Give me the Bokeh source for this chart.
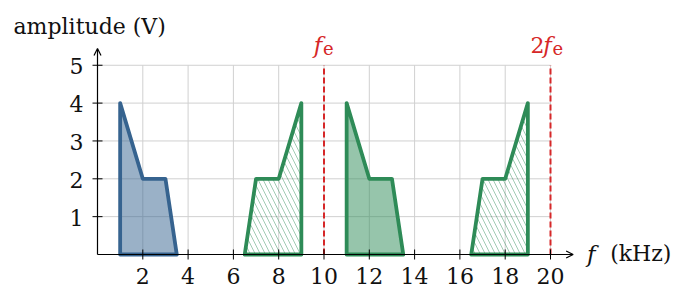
from bokeh.plotting import figure
from bokeh.models import Arrow, OpenHead, Range1d
from bokeh.core.properties import value
from bokeh.embed import file_html
from bokeh.resources import INLINE

# ---- data ----
base_f = [1, 1, 2, 3, 3.5]
base_a = [0, 4, 2, 2, 0]
lsb1_f = [9, 9, 8, 7, 6.5]
lsb1_a = [0, 4, 2, 2, 0]
usb1_f = [11, 11, 12, 13, 13.5]
usb1_a = [0, 4, 2, 2, 0]
lsb2_f = [19, 19, 18, 17, 16.5]
lsb2_a = [0, 4, 2, 2, 0]
fe_lines = [10, 20]
x_ticks = [2, 4, 6, 8, 10, 12, 14, 16, 18, 20]
x_tick_labels = ["2", "4", "6", "8", "10", "12", "14", "16", "18", "20"]
y_ticks = [1, 2, 3, 4, 5]
y_tick_labels = ["1", "2", "3", "4", "5"]
x_axis_end = 21.0
y_axis_end = 5.44

FONT = value("DejaVu Serif")
BLUE = "#36638f"
GREEN = "#2e8b57"
RED = "#d62728"

W, H = 673, 287
sx, sy = 22.65, 37.85
x0px, y0px = 97, 254

p = figure(width=W, height=H, output_backend="svg", toolbar_location=None,
           x_axis_type=None, y_axis_type=None, min_border=0,
           x_range=Range1d(-x0px / sx, (W - x0px) / sx),
           y_range=Range1d(-(H - y0px) / sy, y0px / sy))
p.outline_line_color = None
p.background_fill_color = "white"
p.border_fill_color = "white"

gx_top = y_ticks[-1]
gy_right = x_ticks[-1]
# grid
p.segment(x0=x_ticks, y0=[0] * len(x_ticks), x1=x_ticks, y1=[gx_top] * len(x_ticks),
          line_color="#d0d0d0", line_width=1)
p.segment(x0=[0] * len(y_ticks), y0=y_ticks, x1=[gy_right] * len(y_ticks), y1=y_ticks,
          line_color="#d0d0d0", line_width=1)

# sampling frequency lines
p.segment(x0=fe_lines, y0=[0] * len(fe_lines), x1=fe_lines, y1=[gx_top] * len(fe_lines),
          line_color=RED, line_width=2, line_dash="6 3")

# spectra
p.patch(base_f, base_a, fill_color=BLUE, fill_alpha=0.5, line_color=BLUE,
        line_width=3.8, line_join="round")
p.patch(usb1_f, usb1_a, fill_color=GREEN, fill_alpha=0.5, line_color=GREEN,
        line_width=3.8, line_join="round")
for xs, ys in [(lsb1_f, lsb1_a), (lsb2_f, lsb2_a)]:
    p.patch(xs, ys, fill_color=None, hatch_pattern="\\", hatch_color=GREEN,
            hatch_alpha=0.45, hatch_scale=10, hatch_weight=1,
            line_color=GREEN, line_width=3.8, line_join="round")

# axes
p.add_layout(Arrow(end=OpenHead(size=7, line_width=1.2, line_color="black"),
                   x_start=0, y_start=0, x_end=x_axis_end, y_end=0,
                   line_width=1.2, line_color="black"))
p.add_layout(Arrow(end=OpenHead(size=7, line_width=1.2, line_color="black"),
                   x_start=0, y_start=0, x_end=0, y_end=y_axis_end,
                   line_width=1.2, line_color="black"))
p.scatter(x=x_ticks, y=[0] * len(x_ticks), marker="dash", size=10, angle=1.5708,
          line_color="black", line_width=1)
p.scatter(x=[0] * len(y_ticks), y=y_ticks, marker="dash", size=10,
          line_color="black", line_width=1)

# tick labels
p.text(x=x_ticks, y=[0] * len(x_ticks), text=x_tick_labels, text_align="center",
       text_baseline="alphabetic", y_offset=21, text_font=FONT,
       text_font_size="22px", text_color="#111")
p.text(x=[0] * len(y_ticks), y=y_ticks, text=y_tick_labels, text_align="right",
       text_baseline="alphabetic", x_offset=-14, y_offset=1, text_font=FONT,
       text_font_size="22px", text_color="#111")

# axis labels
p.text(x=[0], y=[gx_top], text=["amplitude (V)"], text_align="left",
       text_baseline="alphabetic", x_offset=-84, y_offset=-39, text_font=FONT,
       text_font_size="22px", text_color="#111")
p.text(x=[x_axis_end], y=[0], text=["f"], text_align="center",
       text_baseline="alphabetic", x_offset=18, y_offset=-1, text_font=FONT,
       text_font_style="italic", text_font_size="23px", text_color="#111")
p.text(x=[x_axis_end], y=[0], text=["(kHz)"], text_align="left",
       text_baseline="alphabetic", x_offset=37, y_offset=-1, text_font=FONT,
       text_font_size="22px", text_color="#111")

# f_e labels
p.text(x=[fe_lines[0]], y=[gx_top], text=["f"], text_align="center",
       text_baseline="alphabetic", x_offset=-6, y_offset=-20, text_font=FONT,
       text_font_style="italic", text_font_size="23px", text_color=RED)
p.text(x=[fe_lines[0]], y=[gx_top], text=["e"], text_align="left",
       text_baseline="alphabetic", x_offset=-1, y_offset=-17, text_font=FONT,
       text_font_size="18px", text_color=RED)
p.text(x=[fe_lines[1]], y=[gx_top], text=["2"], text_align="center",
       text_baseline="alphabetic", x_offset=-13, y_offset=-20, text_font=FONT,
       text_font_size="22px", text_color=RED)
p.text(x=[fe_lines[1]], y=[gx_top], text=["f"], text_align="center",
       text_baseline="alphabetic", x_offset=-3, y_offset=-20, text_font=FONT,
       text_font_style="italic", text_font_size="23px", text_color=RED)
p.text(x=[fe_lines[1]], y=[gx_top], text=["e"], text_align="left",
       text_baseline="alphabetic", x_offset=2, y_offset=-17, text_font=FONT,
       text_font_size="18px", text_color=RED)

open("out.html", "w").write(file_html(p, INLINE))
